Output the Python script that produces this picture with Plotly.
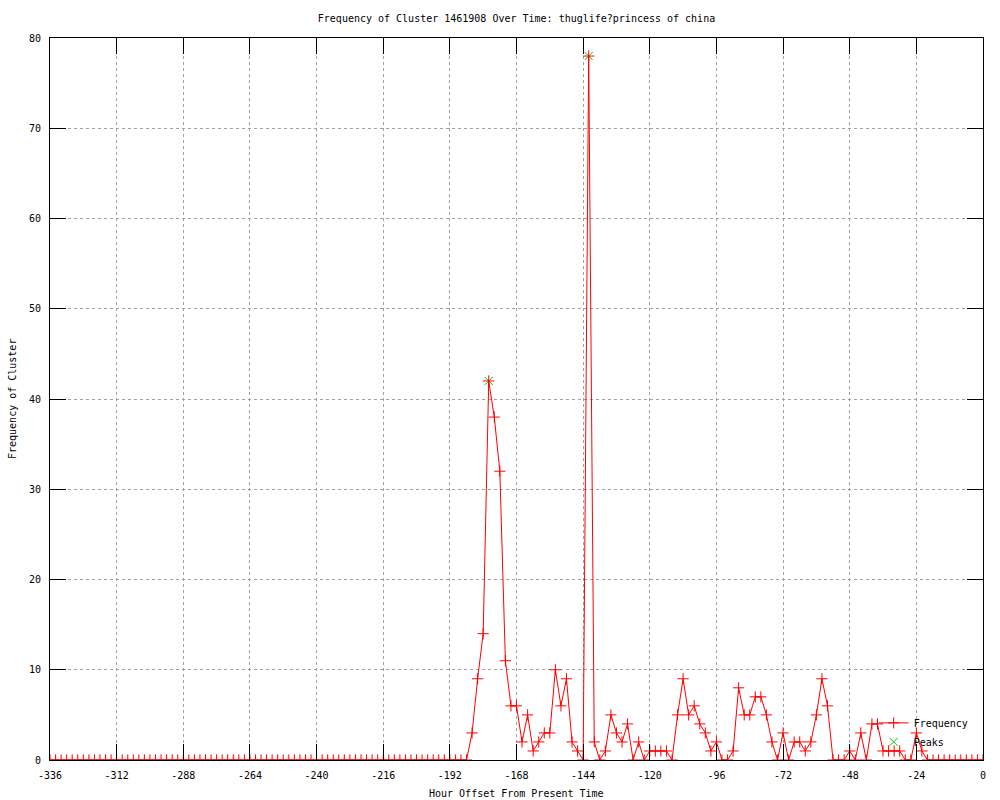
import plotly.graph_objects as go

# ---- data ----
hours = list(range(-336, 1, 2))
frequency = [
    # -336 .. -186
    0, 0, 0, 0, 0, 0, 0, 0, 0, 0, 0, 0, 0, 0, 0, 0, 0, 0, 0, 0,
    0, 0, 0, 0, 0, 0, 0, 0, 0, 0, 0, 0, 0, 0, 0, 0, 0, 0, 0, 0,
    0, 0, 0, 0, 0, 0, 0, 0, 0, 0, 0, 0, 0, 0, 0, 0, 0, 0, 0, 0,
    0, 0, 0, 0, 0, 0, 0, 0, 0, 0, 0, 0, 0, 0, 0, 0,
    # -184 .. 0
    3, 9, 14, 42, 38, 32, 11, 6, 6, 2,
    5, 1, 2, 3, 3, 10, 6, 9, 2, 1,
    0, 78, 2, 0, 1, 5, 3, 2, 4, 0,
    2, 0, 1, 1, 1, 1, 0, 5, 9, 5,
    6, 4, 3, 1, 2, 0, 0, 1, 8, 5,
    5, 7, 7, 5, 2, 0, 3, 0, 2, 2,
    1, 2, 5, 9, 6, 0, 0, 0, 1, 0,
    3, 0, 4, 4, 1, 1, 1, 1, 0, 0,
    3, 1, 0, 0, 0, 0, 0, 0, 0, 0,
    0, 0, 0,
]
peak_hours = [-178, -142]
peak_values = [42, 78]

x_ticks = list(range(-336, 1, 24))
y_ticks = list(range(0, 81, 10))

title_text = "Frequency of Cluster 1461908 Over Time: thuglife?princess of china"
x_title = "Hour Offset From Present Time"
y_title = "Frequency of Cluster"

FONT = "DejaVu Sans Mono"

fig = go.Figure()

fig.add_trace(go.Scatter(
    x=peak_hours, y=peak_values, name="Peaks", mode="markers",
    marker=dict(symbol="x-thin-open", size=8, color="#00c000",
                line=dict(color="#00c000", width=1)),
    legendrank=2,
))
fig.add_trace(go.Scatter(
    x=hours, y=frequency, name="Frequency", mode="lines+markers",
    line=dict(color="#ff0000", width=1),
    marker=dict(symbol="cross-thin-open", size=8, color="#ff0000",
                line=dict(color="#ff0000", width=1)),
    legendrank=1,
))

axis_common = dict(
    showline=True, linecolor="black", linewidth=1, mirror="allticks",
    ticks="inside", ticklen=16, tickwidth=1, tickcolor="black",
    showgrid=True, gridcolor="#a0a0a0", gridwidth=1, griddash="3px,3px",
    zeroline=False, tickfont=dict(family=FONT, size=10, color="black"),
)

fig.update_xaxes(
    range=[-336, 0], tickvals=x_ticks, ticktext=[str(v) for v in x_ticks],
    ticklabelstandoff=6, automargin=False, **axis_common,
)
fig.update_yaxes(
    range=[0, 80], tickvals=y_ticks, ticktext=[str(v) for v in y_ticks],
    ticklabelstandoff=6, automargin=False, **axis_common,
)

# axis titles as annotations for exact placement
fig.add_annotation(text=x_title, xref="paper", yref="paper", x=0.5, y=0,
                   xanchor="center", yanchor="middle", yshift=-33, showarrow=False,
                   font=dict(family=FONT, size=10, color="black"))
fig.add_annotation(text=y_title, xref="paper", yref="paper", x=0, y=0.5,
                   xanchor="center", yanchor="middle", xshift=-38, textangle=-90,
                   showarrow=False, font=dict(family=FONT, size=10, color="black"))

fig.update_layout(
    width=1000, height=800,
    margin=dict(l=50, r=17, t=38, b=40, pad=0),
    paper_bgcolor="white", plot_bgcolor="white",
    font=dict(family=FONT, size=10, color="black"),
    title=dict(text=title_text, x=0.5, xref="paper", y=1 - 18 / 800,
               yref="container", xanchor="center", yanchor="middle",
               font=dict(family=FONT, size=10, color="black")),
    legend=dict(x=0.99, y=0.005, xanchor="right", yanchor="bottom",
                bgcolor="rgba(0,0,0,0)", font=dict(family=FONT, size=10),
                tracegroupgap=0, itemwidth=30),
    showlegend=True,
)

# remove the default page margin so the 1000x800 figure fills the window exactly
fig.write_html(
    "out.html",
    config={"displayModeBar": False},
    post_script="document.body.style.margin='0';document.body.style.overflow='hidden';",
)
